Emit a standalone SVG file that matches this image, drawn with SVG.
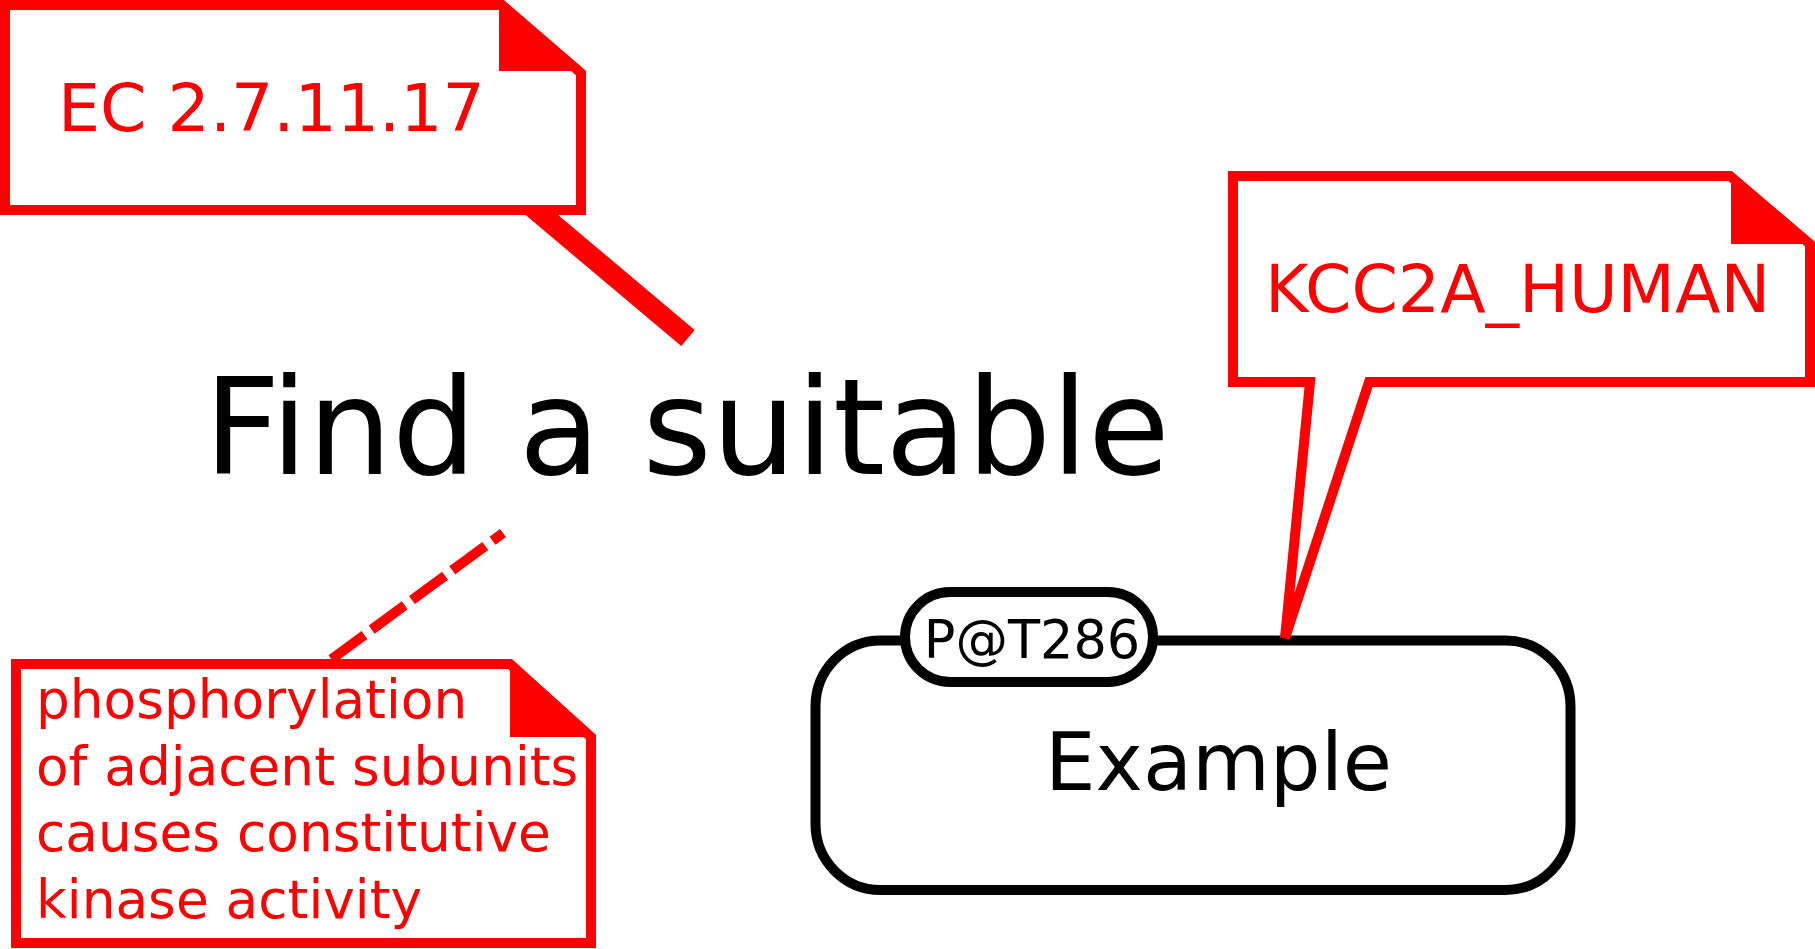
<svg xmlns="http://www.w3.org/2000/svg" width="1815" height="949" viewBox="0 0 1815 949">
<style>
.note{fill:#fff;stroke:#f00;stroke-width:10;stroke-linejoin:miter}
.fold{fill:#f00;stroke:none}
.ntext{fill:#f00;font-family:"DejaVu Sans",sans-serif}
.node{fill:#fff;stroke:#000;stroke-width:10}
.btext{fill:#000;font-family:"DejaVu Sans",sans-serif}
</style>
<rect width="1815" height="949" fill="#fff"/>
<g id="connectors">
<line x1="524" y1="200" x2="688" y2="338" stroke="#f00" stroke-width="21"/>
<line x1="325" y1="664" x2="503" y2="533" stroke="#f00" stroke-width="10" stroke-dasharray="41,9" stroke-dashoffset="-8"/>
</g>
<g id="note-ec">
<path class="note" d="M5,5 H502 L581,73 V210 H5 Z"/>
<path class="fold" d="M499,5 V71 H581 Z"/>
<text class="ntext" x="58" y="131" font-size="66.5">EC 2.7.11.17</text>
</g>
<g id="label-find">
<text class="btext" x="204" y="474" font-size="133">Find a suitable</text>
</g>
<g id="note-comment">
<path class="note" d="M16,664 H510 L591,737 V943 H16 Z"/>
<path class="fold" d="M510,664 V737 H591 Z"/>
<text class="ntext" font-size="53.3"><tspan x="36" y="718">phosphorylation</tspan><tspan x="36" y="785">of adjacent subunits</tspan><tspan x="36" y="851">causes constitutive</tspan><tspan x="36" y="918">kinase activity</tspan></text>
</g>
<g id="node-example">
<rect class="node" x="815.5" y="640.5" width="755" height="249.5" rx="65" ry="66"/>
<text class="btext" x="1045" y="790" font-size="80">Example</text>
</g>
<g id="unit-pt286">
<rect class="node" x="905" y="592" width="248" height="90" rx="45" ry="45"/>
<text class="btext" x="1032" y="658" font-size="52.5" text-anchor="middle">P@T286</text>
</g>
<g id="note-kcc2a">
<path class="note" d="M1233,176 H1730 L1810,244 V382 H1369 L1285,638 L1310,382 H1233 Z"/>
<path class="fold" d="M1731,176 V244 H1810 Z"/>
<text class="ntext" x="1265" y="312" font-size="66.5">KCC2A_HUMAN</text>
</g>
</svg>
